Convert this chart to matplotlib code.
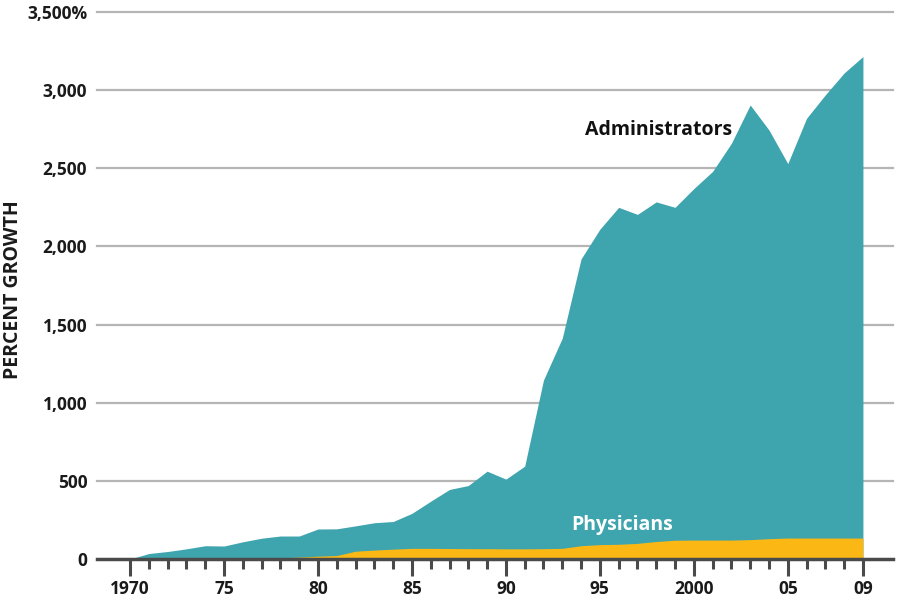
import matplotlib
matplotlib.use("Agg")
import matplotlib.pyplot as plt

years = list(range(1970, 2010))
administrators = [0, 35, 48, 65, 85, 83, 110, 133, 147, 147,
                  192, 193, 212, 232, 240, 292, 370, 445, 470, 562,
                  511, 594, 1145, 1413, 1920, 2110, 2250, 2205, 2285, 2250,
                  2370, 2480, 2660, 2905, 2745, 2530, 2820, 2970, 3110, 3215]
physicians = [0, 0, 0, 0, 0, 0, 0, 0, 8, 12,
              18, 22, 50, 57, 63, 68, 68, 67, 66, 66,
              65, 65, 66, 68, 85, 92, 94, 100, 112, 120,
              121, 121, 121, 124, 130, 134, 134, 134, 134, 134]
ytick_vals = [0, 500, 1000, 1500, 2000, 2500, 3000, 3500]
ytick_labels = ["0", "500", "1,000", "1,500", "2,000", "2,500", "3,000", "3,500%"]
xmajor_vals = [1970, 1975, 1980, 1985, 1990, 1995, 2000, 2005, 2009]
xmajor_labels = ["1970", "75", "80", "85", "90", "95", "2000", "05", "09"]

plt.rcParams['font.family'] = ['Open Sans', 'DejaVu Sans']

TEAL = "#3ea4ae"
ORANGE = "#fbb814"

fig = plt.figure(figsize=(9, 6), dpi=100)
ax = fig.add_axes([97/900, 41/600, (893-97)/900, (559-12)/600])

ax.fill_between(years, 0, administrators, color=TEAL, linewidth=0, zorder=2)
ax.fill_between(years, 0, physicians, color=ORANGE, linewidth=0, zorder=3)

ax.set_xlim(1968.24, 2010.6)
ax.set_ylim(0, 3500)

for v in ytick_vals[1:]:
    ax.axhline(v, color="#b5b5b5", linewidth=1.6, zorder=1, clip_on=False)
ax.axhline(0, color="#4a4a4a", linewidth=2.5, zorder=4, clip_on=False)

for s in ax.spines.values():
    s.set_visible(False)

ax.set_yticks(ytick_vals)
ax.set_yticklabels(ytick_labels, fontsize=12.5, fontweight="bold")
ax.tick_params(axis="y", length=0, pad=7, colors="#1a1a1a")

ax.set_xticks(xmajor_vals)
ax.set_xticklabels(xmajor_labels, fontsize=12.5, fontweight="bold")
ax.set_xticks(years, minor=True)
ax.tick_params(axis="x", which="major", length=12, width=2.2, color="#4a4a4a",
               direction="out", pad=3, labelcolor="#1a1a1a")
ax.tick_params(axis="x", which="minor", length=7, width=2.2, color="#4a4a4a",
               direction="out")

fig.text(13/900, 1 - 290/600, "PERCENT GROWTH", fontsize=14, fontweight="bold",
         color="#1a1a1a", rotation=90, ha="center", va="center")

ax.text(1994.2, 2745, "Administrators", fontsize=14, fontweight="bold",
        color="#111111", ha="left", va="center", zorder=5)
ax.text(1993.5, 217, "Physicians", fontsize=14, fontweight="bold",
        color="white", ha="left", va="center", zorder=5)

fig.savefig("out.png", dpi=100)
